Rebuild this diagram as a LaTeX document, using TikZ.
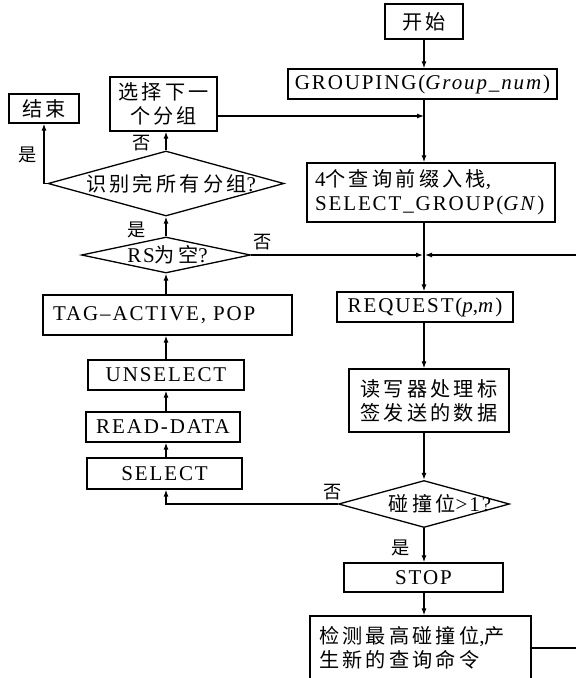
\documentclass[tikz,border=0pt]{standalone}
\usepackage{fontspec}
\setmainfont[LetterSpace=9]{Liberation Serif}
\newfontfamily\cjk[LetterSpace=16,Scale=0.96]{Noto Sans CJK SC}
\usetikzlibrary{shapes.geometric,arrows.meta}
\newcommand\zh[1]{{\cjk #1}}
\tikzset{
  box/.style={draw, line width=1.3pt, inner sep=0pt, align=center},
  lbox/.style={draw, line width=1.3pt, inner ysep=0pt, align=left},
  dia/.style={draw, diamond, line width=1.3pt, inner sep=0pt},
  lbl/.style={inner sep=0pt, font=\fontsize{19}{21}\selectfont},
  conn/.style={line width=1.2pt, -{Latex[length=7pt,width=5pt]}},
  plain/.style={line width=1.2pt}
}
\begin{document}
\begin{tikzpicture}[x=1pt, y=-1pt, every node/.append style={font=\fontsize{21}{24}\selectfont}]
\useasboundingbox (0,0) rectangle (576,678);
\clip (0,0) rectangle (576,678);
% main column
\coordinate (m) at (424,0);
\coordinate (l) at (166,0);
\coordinate (rx) at (600,0);
\coordinate (j) at (424,255);
\coordinate (y116) at (0,116);
\node[box, minimum width=78pt, minimum height=35pt] (start) at (424,21.5) {\zh{开始}};
\node[box, minimum width=269pt, minimum height=30pt] (grp) at (422.5,84) {GROUPING(\textit{Group\_num})};
\node[lbox, text width=232pt, inner xsep=8pt, minimum height=59pt] (sg) at (431,192.5) {4\zh{个查询前缀入栈},\\SELECT\_GROUP(\textit{GN})};
\node[box, minimum width=176pt, minimum height=30pt] (req) at (425,307) {REQUEST(\textit{p},\textit{m})};
\node[box, minimum width=160pt, minimum height=63pt] (rdr) at (429,400.5) {\zh{读写器处理标}\\\zh{签发送的数据}};
\node[dia, minimum width=171pt, minimum height=47pt] (cd) at (424,504) {};
\node[inner sep=0pt] (cdt) at (440,504) {\zh{碰撞位}>1?};
\node[box, minimum width=159pt, minimum height=29pt] (stop) at (423.5,577.5) {STOP};
\node[lbox, text width=203pt, inner xsep=9pt, minimum height=64pt] (last) at (420.5,648) {\zh{检测最高碰撞位},\zh{产}\\\zh{生新的查询命令}};
% left column
\node[box, minimum width=70pt, minimum height=29pt] (end) at (44,108.5) {\zh{结束}};
\node[box, minimum width=107pt, minimum height=54pt] (ng) at (163.5,104) {\zh{选择下一}\\\zh{个分组}};
\node[dia, minimum width=236pt, minimum height=65pt] (ag) at (166,183.5) {};
\node[inner sep=0pt] (agt) at (171,183.5) {\zh{识别完所有分组}?};
\node[dia, minimum width=169pt, minimum height=36pt] (rs) at (166,255) {};
\node[inner sep=0pt] (rst) at (167.5,255) {RS\zh{为空}?};
\node[lbox, text width=229pt, inner xsep=10pt, minimum height=40pt] (tag) at (167.5,315) {TAG–ACTIVE, POP};
\node[box, minimum width=156pt, minimum height=30pt] (uns) at (166,375) {UNSELECT};
\node[box, minimum width=154pt, minimum height=30pt] (rd) at (163,427) {READ-DATA};
\node[box, minimum width=155pt, minimum height=31pt] (sel) at (164.5,473.5) {SELECT};
% labels
\node[lbl] (n1) at (142,143) {\zh{否}};
\node[lbl] (y1) at (28,155) {\zh{是}};
\node[lbl] (y2) at (137,230) {\zh{是}};
\node[lbl] (n2) at (263,242) {\zh{否}};
\node[lbl] (n3) at (333,492) {\zh{否}};
\node[lbl] (y3) at (401,548) {\zh{是}};
% connectors main
\draw[conn] (m |- start.south) -- (m |- grp.north);
\draw[conn] (m |- grp.south) -- (m |- sg.north);
\draw[conn] (m |- sg.south) -- (m |- req.north);
\draw[conn] (m |- req.south) -- (m |- rdr.north);
\draw[conn] (m |- rdr.south) -- (cd.north);
\draw[conn] (cd.south) -- (cd.south |- stop.north);
\draw[conn] (cd.south |- stop.south) -- (cd.south |- last.north);
\draw[conn] (ng.east |- y116) -- (m |- y116);
\draw[conn] (rs.east) -- ([xshift=-1pt]j);
\draw[conn] (last.east) -- (rx |- last.east) -- (rx |- j) -- ([xshift=1pt]j);
% connectors left
\draw[conn] (cd.west) -- (l |- cd.west) -- (l |- sel.south);
\draw[conn] (l |- sel.north) -- (l |- rd.south);
\draw[conn] (l |- rd.north) -- (l |- uns.south);
\draw[conn] (l |- uns.north) -- (l |- tag.south);
\draw[conn] (l |- tag.north) -- (l |- rs.south);
\draw[conn] (rs.north) -- (rs.north |- ag.south);
\draw[conn] (ag.north) -- (ag.north |- ng.south);
\draw[conn] (ag.west) -| (end.south);
\end{tikzpicture}
\end{document}
